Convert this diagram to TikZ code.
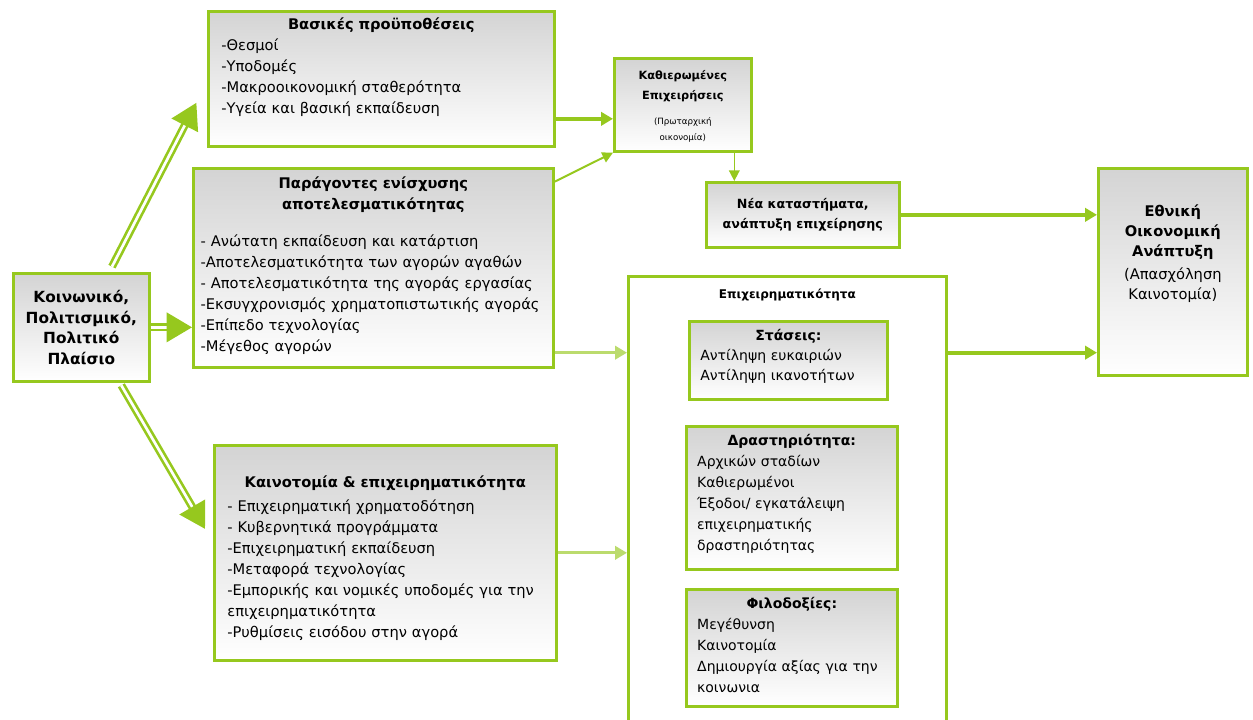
\documentclass[tikz,border=0pt]{standalone}
\usepackage{fontspec}
\setmainfont{DejaVu Sans}
\usetikzlibrary{arrows.meta,positioning}
\definecolor{framegreen}{RGB}{150,200,30}

\begin{document}
\begin{tikzpicture}[x=0.75pt,y=-0.75pt,
    greybox/.style={draw=framegreen, line width=2pt, top color=black!17, bottom color=white, anchor=north west, inner sep=0pt},
    boxtext/.style={inner sep=0pt, align=left, font=\fontsize{11}{15.75}\selectfont},
    bigarrow/.style={draw=framegreen, double=white, double distance=2pt, line width=2pt, -{Triangle[length=19pt,width=22pt]}},
    linkarrow/.style={draw=framegreen, line width=3pt, -{Triangle[length=9pt,width=10pt]}},
    thinarrow/.style={draw=framegreen, line width=1.5pt, -{Triangle[length=8pt,width=8pt]}}]
    \newcommand{\ttl}[1]{\hspace*{\fill}\textbf{#1}\hspace*{\fill}\null\\}

    \useasboundingbox (0,0) rectangle (1253,720);

    % left frame
    \node[greybox, minimum width=102pt, minimum height=81pt, align=center,
          font=\fontsize{11.5}{15.4}\selectfont\bfseries] (ctx) at (12,272)
          {Κοινωνικό,\\Πολιτισμικό,\\Πολιτικό\\Πλαίσιο};

    % the three boxes in the middle
    \node[greybox, minimum width=259.5pt, minimum height=101.25pt] (basic) at (207,10) {};
    \node[boxtext, text width=240pt, below=6pt of basic.north] (basicT)
          {\ttl{Βασικές προϋποθέσεις}-Θεσμοί\\-Υποδομές\\-Μακροοικονομική σταθερότητα\\-Υγεία και βασική εκπαίδευση};

    \node[greybox, minimum width=270pt, minimum height=149.25pt] (parag) at (192,167) {};
    \node[boxtext, text width=259pt, below=7pt of parag.north] (paragT)
          {\ttl{Παράγοντες ενίσχυσης}\ttl{αποτελεσματικότητας}[12pt]
           - Ανώτατη εκπαίδευση και κατάρτιση\\-Αποτελεσματικότητα των αγορών αγαθών\\
           - Αποτελεσματικότητα της αγοράς εργασίας\\-Εκσυγχρονισμός χρηματοπιστωτικής αγοράς\\
           -Επίπεδο τεχνολογίας\\-Μέγεθος αγορών};

    \node[greybox, minimum width=256.5pt, minimum height=161.25pt] (kain) at (213,444) {};
    \node[boxtext, text width=237pt, below=24pt of kain.north] (kainT)
          {\ttl{Καινοτομία \& επιχειρηματικότητα}[2pt]
           - Επιχειρηματική χρηματοδότηση\\- Κυβερνητικά προγράμματα\\-Επιχειρηματική εκπαίδευση\\
           -Μεταφορά τεχνολογίας\\-Εμπορικής και νομικές υποδομές για την\\επιχειρηματικότητα\\
           -Ρυθμίσεις εισόδου στην αγορά};

    % top right
    \node[greybox, minimum width=102.75pt, minimum height=69.75pt] (kath) at (613,57) {};
    \node[boxtext, align=center, below=10pt of kath.north, font=\fontsize{8.5}{15}\selectfont] (kathT)
          {\textbf{Καθιερωμένες}\\\textbf{Επιχειρήσεις}\\[4pt]{\fontsize{6.5}{8}\selectfont(Πρωταρχική}\\[-3pt]{\fontsize{6.5}{8}\selectfont οικονομία)}};

    \node[greybox, minimum width=144.75pt, minimum height=48.75pt, align=center,
          font=\fontsize{9.5}{15}\selectfont\bfseries] (nea) at (705,181)
          {Νέα καταστήματα,\\ανάπτυξη επιχείρησης};

    \node[greybox, minimum width=111.75pt, minimum height=155.25pt] (ethn) at (1097,167) {};
    \node[boxtext, align=center, below=28pt of ethn.north, font=\fontsize{11}{15}\selectfont] (ethnT)
          {\textbf{Εθνική}\\\textbf{Οικονομική}\\\textbf{Ανάπτυξη}\\[2.5pt](Απασχόληση\\Καινοτομία)};

    % entrepreneurship, open at the bottom
    \node[draw=framegreen, line width=2pt, fill=white, anchor=north west, inner sep=0pt,
          minimum width=238.5pt, minimum height=348.75pt] (epix) at (627,275) {};
    \node[inner sep=0pt, below=10pt of epix.north, font=\fontsize{9}{11}\selectfont\bfseries] (epixT)
          {Επιχειρηματικότητα};

    \node[greybox, minimum width=148.5pt, minimum height=58.5pt] (stas) at (688,320) {};
    \node[boxtext, text width=132pt, below=7pt of stas.north, font=\fontsize{10.5}{15}\selectfont] (stasT)
          {\ttl{Στάσεις:}Αντίληψη ευκαιριών\\Αντίληψη ικανοτήτων};

    \node[greybox, minimum width=158.25pt, minimum height=107.25pt] (drast) at (685,425) {};
    \node[boxtext, text width=142pt, below=7pt of drast.north, font=\fontsize{10.5}{15.75}\selectfont] (drastT)
          {\ttl{Δραστηριότητα:}Αρχικών σταδίων\\Καθιερωμένοι\\Έξοδοι/ εγκατάλειψη\\επιχειρηματικής\\δραστηριότητας};

    \node[greybox, minimum width=158.25pt, minimum height=87.75pt] (filo) at (685,588) {};
    \node[boxtext, text width=142pt, below=7pt of filo.north, font=\fontsize{10.5}{15.75}\selectfont] (filoT)
          {\ttl{Φιλοδοξίες:}Μεγέθυνση\\Καινοτομία\\Δημιουργία αξίας για την\\κοινωνια};

    % fat arrows out of the frame
    \draw[bigarrow] ([xshift=23pt,yshift=4pt]ctx.north) -- ([xshift=-8pt,yshift=-18pt]basic.west);
    \draw[bigarrow] (ctx.east) -- (ctx.east -| parag.west);
    \draw[bigarrow] ([xshift=30pt,yshift=-2pt]ctx.south) -- ([xshift=-6pt,yshift=18pt]kain.west);

    % links
    \coordinate (bk) at ([yshift=-30pt]basic.east);
    \draw[linkarrow] (bk) -- (bk -| kath.west);
    \draw[thinarrow] ([yshift=-11pt]parag.north east) -- (kath.south west);
    \coordinate (kn) at ([xshift=38.6pt]kath.south);
    \draw[thinarrow, line width=1.2pt] (kn) -- (kn |- nea.north);
    \draw[linkarrow] (nea.east) -- (nea.east -| ethn.west);
    \coordinate (pe) at ([yshift=12pt]parag.south east);
    \draw[linkarrow, draw=framegreen!65, line width=2.2pt] (pe) -- (pe -| epix.west);
    \draw[linkarrow, draw=framegreen!65, line width=2.2pt] (kain.east) -- (kain.east -| epix.west);
    \draw[linkarrow] (epix.east |- pe) -- (ethn.west |- pe);
\end{tikzpicture}
\end{document}
